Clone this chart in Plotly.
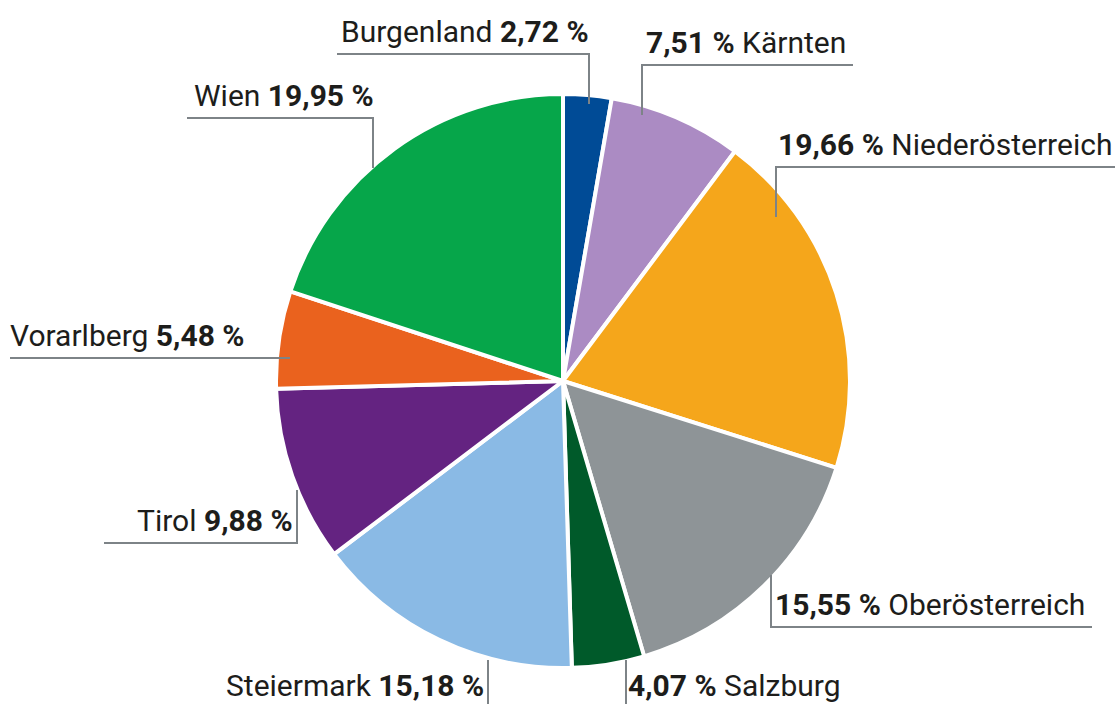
import plotly.graph_objects as go

# ---- data ----
regions = ["Burgenland", "Kärnten", "Niederösterreich", "Oberösterreich", "Salzburg",
           "Steiermark", "Tirol", "Vorarlberg", "Wien"]
shares = [2.72, 7.51, 19.66, 15.55, 4.07, 15.18, 9.88, 5.48, 19.95]
share_labels = ["2,72 %", "7,51 %", "19,66 %", "15,55 %", "4,07 %",
                "15,18 %", "9,88 %", "5,48 %", "19,95 %"]
colors = ["#004b96", "#ab8bc3", "#f5a61b", "#8e9497", "#005a2a",
          "#8abae5", "#642381", "#ea621e", "#06a64a"]

W, H = 1117, 704
FONT = "Roboto, sans-serif"
LINE_COLOR = "#7d8387"

# label layout: (text side relative to anchor, anchor x px, box bottom y px, value first?, leader polyline px)
label_layout = {
    "Burgenland":       ("right", 590, 50, False, [(337, 54), (589, 54), (589, 104)]),
    "Kärnten":          ("left", 645, 61, True, [(853, 65), (642, 65), (642, 115)]),
    "Niederösterreich": ("left", 777, 163, True, [(1115, 167), (776, 167), (776, 217)]),
    "Oberösterreich":   ("left", 774, 623, True, [(771, 575), (771, 627), (1092, 627)]),
    "Salzburg":         ("left", 627, 704, True, [(626, 660), (626, 704)]),
    "Steiermark":       ("right", 485, 704, False, [(488, 660), (488, 704)]),
    "Tirol":            ("right", 294, 539, False, [(104, 543), (297, 543), (297, 490)]),
    "Vorarlberg":       ("left", 9, 354, False, [(10, 358), (290, 358)]),
    "Wien":             ("right", 375, 114, False, [(187, 118), (373, 118), (373, 168)]),
}

cx, cy, r = 563, 381, 287

fig = go.Figure(go.Pie(
    labels=regions,
    values=shares,
    sort=False,
    direction="clockwise",
    rotation=0,
    marker=dict(colors=colors, line=dict(color="white", width=4)),
    textinfo="none",
    hoverinfo="label+percent",
    showlegend=False,
    domain=dict(x=[(cx - r) / W, (cx + r) / W], y=[1 - (cy + r) / H, 1 - (cy - r) / H]),
))

def px(x):
    return x / W

def py(y):
    return 1 - y / H

shapes = []
annotations = []
for name, val in zip(regions, share_labels):
    side, ax, by, value_first, pts = label_layout[name]
    path = "M " + " L ".join(f"{px(x)},{py(y)}" for x, y in pts)
    shapes.append(dict(type="path", path=path, xref="paper", yref="paper",
                       line=dict(color=LINE_COLOR, width=2)))
    if value_first:
        txt = f"<b>{val}</b> {name}"
    else:
        txt = f"{name} <b>{val}</b>"
    annotations.append(dict(
        text=txt, x=px(ax), y=py(by), xref="paper", yref="paper",
        xanchor="left" if side == "left" else "right", yanchor="bottom",
        showarrow=False, font=dict(family=FONT, size=30, color="#1d1d1b"),
        borderpad=0,
    ))

fig.update_layout(
    width=W, height=H,
    margin=dict(l=0, r=0, t=0, b=0),
    paper_bgcolor="white", plot_bgcolor="white",
    shapes=shapes, annotations=annotations,
)

fig.write_html("out.html", config={"displayModeBar": False},
               post_script="document.body.style.margin='0';")
